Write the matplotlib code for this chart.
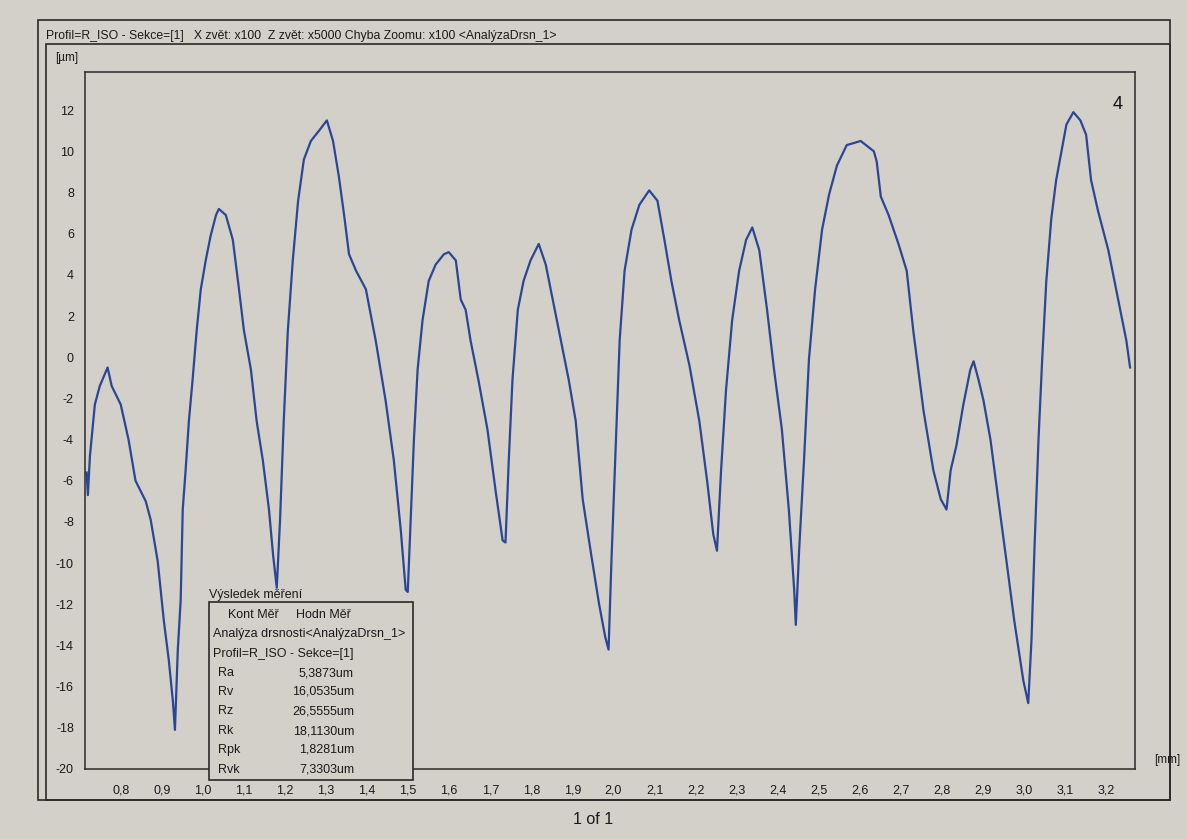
import matplotlib
matplotlib.use("Agg")
import matplotlib.pyplot as plt
from matplotlib.patches import Rectangle

plt.rcParams['font.family'] = ['Liberation Sans', 'DejaVu Sans']

# ---- data (x in mm, z in um) ----
profile_x = [0.717, 0.720, 0.725, 0.737, 0.749, 0.768, 0.778, 0.800, 0.819, 0.836,
             0.861, 0.873, 0.890, 0.905, 0.917, 0.927, 0.932, 0.939, 0.946, 0.951,
             0.958, 0.966, 0.975, 0.985, 0.995, 1.007, 1.019, 1.032, 1.039, 1.056,
             1.073, 1.088, 1.100, 1.117, 1.131, 1.146, 1.161, 1.171, 1.180, 1.188,
             1.197, 1.207, 1.219, 1.232, 1.246, 1.263, 1.283, 1.302, 1.317, 1.331,
             1.344, 1.356, 1.373, 1.397, 1.421, 1.445, 1.465, 1.482, 1.494, 1.499,
             1.506, 1.514, 1.523, 1.535, 1.550, 1.567, 1.587, 1.599, 1.616, 1.628,
             1.640, 1.652, 1.671, 1.693, 1.713, 1.730, 1.737, 1.745, 1.754, 1.767,
             1.781, 1.798, 1.818, 1.835, 1.852, 1.872, 1.891, 1.908, 1.925, 1.945,
             1.965, 1.980, 1.988, 1.995, 2.005, 2.015, 2.027, 2.044, 2.063, 2.087,
             2.107, 2.124, 2.141, 2.160, 2.185, 2.209, 2.228, 2.243, 2.252, 2.262,
             2.274, 2.289, 2.306, 2.323, 2.338, 2.355, 2.374, 2.391, 2.410, 2.427,
             2.440, 2.444, 2.452, 2.464, 2.476, 2.491, 2.508, 2.525, 2.544, 2.568,
             2.602, 2.634, 2.641, 2.651, 2.670, 2.694, 2.714, 2.730, 2.755, 2.779,
             2.797, 2.811, 2.821, 2.835, 2.852, 2.869, 2.877, 2.889, 2.901, 2.918,
             2.937, 2.957, 2.976, 2.998, 3.010, 3.018, 3.025, 3.035, 3.044, 3.054,
             3.066, 3.078, 3.091, 3.103, 3.120, 3.137, 3.151, 3.163, 3.180, 3.205,
             3.224, 3.239, 3.249, 3.258]
profile_z = [-5.6, -6.7, -4.8, -2.3, -1.4, -0.5, -1.4, -2.3, -4.0, -6.0,
             -7.0, -7.9, -9.9, -12.8, -14.7, -16.7, -18.1, -14.2, -11.8, -7.4,
             -5.5, -3.1, -1.1, 1.3, 3.3, 4.7, 5.9, 6.9, 7.2, 6.9,
             5.7, 3.3, 1.3, -0.6, -3.1, -5.0, -7.4, -9.6, -11.2, -7.9,
             -3.1, 1.3, 4.7, 7.6, 9.6, 10.5, 11.0, 11.5, 10.5, 8.8,
             6.9, 5.0, 4.2, 3.3, 0.8, -2.1, -5.0, -8.4, -11.3, -11.4,
             -7.9, -4.0, -0.6, 1.8, 3.7, 4.5, 5.0, 5.1, 4.7, 2.8,
             2.3, 0.8, -1.1, -3.5, -6.5, -8.9, -9.0, -5.0, -1.1, 2.3,
             3.7, 4.7, 5.5, 4.5, 2.8, 0.8, -1.1, -3.1, -6.9, -9.5,
             -12.0, -13.6, -14.2, -9.9, -4.5, 0.8, 4.2, 6.2, 7.4, 8.1,
             7.6, 5.7, 3.7, 1.8, -0.4, -3.1, -6.0, -8.6, -9.4, -5.5,
             -1.6, 1.8, 4.2, 5.7, 6.3, 5.2, 2.3, -0.6, -3.5, -7.4,
             -11.3, -13.0, -9.4, -5.0, -0.1, 3.3, 6.2, 7.9, 9.3, 10.3,
             10.5, 10.0, 9.5, 7.8, 6.9, 5.5, 4.2, 1.3, -2.6, -5.5,
             -6.9, -7.4, -5.5, -4.3, -2.3, -0.6, -0.2, -1.1, -2.1, -4.0,
             -6.9, -9.9, -12.8, -15.7, -16.8, -13.7, -9.4, -4.0, -0.1, 3.7,
             6.7, 8.6, 10.0, 11.3, 11.9, 11.5, 10.8, 8.6, 7.1, 5.2,
             3.3, 1.8, 0.8, -0.5]

x_ticks = [0.8, 0.9, 1.0, 1.1, 1.2, 1.3, 1.4, 1.5, 1.6, 1.7, 1.8, 1.9, 2.0,
           2.1, 2.2, 2.3, 2.4, 2.5, 2.6, 2.7, 2.8, 2.9, 3.0, 3.1, 3.2]
x_tick_labels = ['0,8', '0,9', '1,0', '1,1', '1,2', '1,3', '1,4', '1,5', '1,6',
                 '1,7', '1,8', '1,9', '2,0', '2,1', '2,2', '2,3', '2,4', '2,5',
                 '2,6', '2,7', '2,8', '2,9', '3,0', '3,1', '3,2']
y_ticks = [12, 10, 8, 6, 4, 2, 0, -2, -4, -6, -8, -10, -12, -14, -16, -18, -20]

result_names = ['Ra', 'Rv', 'Rz', 'Rk', 'Rpk', 'Rvk']
result_values = ['5,3873um', '16,0535um', '26,5555um', '18,1130um', '1,8281um', '7,3303um']

header = 'Profil=R_ISO - Sekce=[1]   X zvět: x100  Z zvět: x5000 Chyba Zoomu: x100 <AnalýzaDrsn_1>'

# ---- figure ----
W, H = 1187, 839
paper = '#d3d0c9'
ink = '#2a2a2a'
blue = '#2a4695'

fig = plt.figure(figsize=(W / 100, H / 100), dpi=100, facecolor=paper)


def fx(px):
    return px / W


def fy(py):
    return 1 - py / H


# frames
fig.patches.append(Rectangle((fx(38), fy(800)), fx(1170 - 38), (800 - 20) / H,
                             transform=fig.transFigure, fill=False, ec=ink, lw=1.2))
fig.patches.append(Rectangle((fx(46), fy(800)), fx(1170 - 46), (800 - 44) / H,
                             transform=fig.transFigure, fill=False, ec=ink, lw=1.2))

fig.text(fx(46), fy(36), header, fontsize=8.8, color='#1a1a1a', va='center', ha='left')
fig.text(fx(55), fy(58), '[µm]', fontsize=8.5, color='#1a1a1a', va='center', ha='left')
fig.text(fx(1154), fy(760), '[mm]', fontsize=8.5, color='#1a1a1a', va='center', ha='left')
fig.text(fx(593), fy(819), '1 of 1', fontsize=11.5, color='#1a1a1a', va='center', ha='center')

ax = fig.add_axes([fx(85), fy(769), fx(1135 - 85), (769 - 72) / H])
ax.set_facecolor(paper)
for s in ax.spines.values():
    s.set_color(ink)
    s.set_linewidth(1.1)

ax.plot(profile_x, profile_z, color=blue, lw=1.6, solid_joinstyle='round')

ax.set_xlim(0.713, 3.27)
ax.set_ylim(-20, 13.85)
ax.set_xticks(x_ticks)
ax.set_xticklabels(x_tick_labels)
ax.set_yticks(y_ticks)
ax.set_yticklabels([str(v) for v in y_ticks])
ax.tick_params(length=0, labelsize=9, colors='#1a1a1a')
ax.tick_params(axis='x', pad=11)
ax.tick_params(axis='y', pad=8)

ax.text(0.988, 0.965, '4', transform=ax.transAxes, fontsize=13, ha='right', va='top',
        color='#111111')

# results box
fig.text(fx(209), fy(595), 'Výsledek měření', fontsize=9, color='#1a1a1a', va='center', ha='left')
box = Rectangle((fx(209), fy(780)), fx(413 - 209), (780 - 602) / H,
                transform=fig.transFigure, facecolor=paper, ec=ink, lw=1.2, zorder=5)
fig.patches.append(box)
fig.text(fx(228), fy(615), 'Kont Měř', fontsize=9, color='#1a1a1a', va='center', ha='left', zorder=6)
fig.text(fx(296), fy(615), 'Hodn Měř', fontsize=9, color='#1a1a1a', va='center', ha='left', zorder=6)
fig.text(fx(213), fy(634), 'Analýza drsnosti<AnalýzaDrsn_1>', fontsize=9, color='#1a1a1a',
         va='center', ha='left', zorder=6)
fig.text(fx(213), fy(654), 'Profil=R_ISO - Sekce=[1]', fontsize=9, color='#1a1a1a',
         va='center', ha='left', zorder=6)
row_y = [673, 692, 711, 731, 750, 770]
for name, val, yy in zip(result_names, result_values, row_y):
    fig.text(fx(218), fy(yy), name, fontsize=9, color='#1a1a1a', va='center', ha='left', zorder=6)
    fig.text(fx(354), fy(yy), val, fontsize=9, color='#1a1a1a', va='center', ha='right', zorder=6)

fig.savefig('out.png', dpi=100, facecolor=paper)
